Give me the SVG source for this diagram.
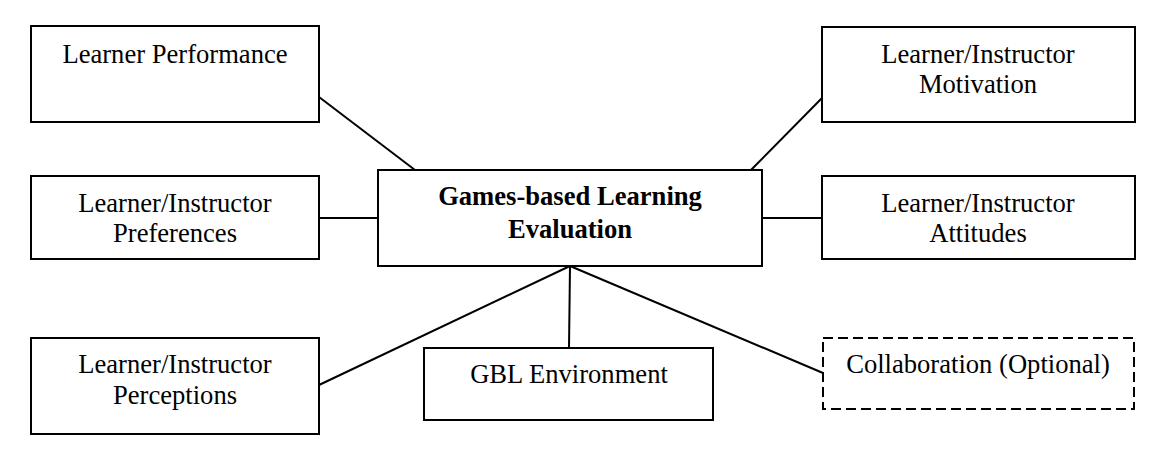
<svg xmlns="http://www.w3.org/2000/svg" width="1166" height="452" viewBox="0 0 1166 452">
<style>
.box{fill:#fff;stroke:#000;stroke-width:2}
.dash{stroke-dasharray:10,5}
.t{font-family:"Liberation Serif","Times New Roman",serif;font-size:26.6px;fill:#000;text-anchor:middle}
.b{font-weight:bold}
.c line{stroke:#000;stroke-width:2}
</style>
<rect width="1166" height="452" fill="#fff"/>
<g class="c" id="connectors">
<line x1="319" y1="97" x2="415" y2="170"/>
<line x1="822" y1="98" x2="751" y2="170"/>
<line x1="319" y1="218" x2="378" y2="218"/>
<line x1="762" y1="218" x2="822" y2="218"/>
<line x1="570" y1="266" x2="319" y2="385"/>
<line x1="570" y1="266" x2="569" y2="348"/>
<line x1="570" y1="266" x2="823" y2="373"/>
</g>
<g id="performance"><rect class="box" x="31" y="26" width="288" height="96"/><text class="t" x="175" y="63">Learner Performance</text></g>
<g id="motivation"><rect class="box" x="822" y="27" width="313" height="95"/><text class="t" x="978" y="63">Learner/Instructor</text><text class="t" x="978" y="93">Motivation</text></g>
<g id="preferences"><rect class="box" x="31" y="176" width="288" height="83"/><text class="t" x="175" y="212">Learner/Instructor</text><text class="t" x="175" y="242">Preferences</text></g>
<g id="center"><rect class="box" x="378" y="170" width="384" height="96"/><text class="t b" x="570" y="205">Games-based Learning</text><text class="t b" x="570" y="238">Evaluation</text></g>
<g id="attitudes"><rect class="box" x="822" y="176" width="313" height="83"/><text class="t" x="978" y="212">Learner/Instructor</text><text class="t" x="978" y="242">Attitudes</text></g>
<g id="perceptions"><rect class="box" x="31" y="338" width="288" height="96"/><text class="t" x="175" y="373">Learner/Instructor</text><text class="t" x="175" y="404">Perceptions</text></g>
<g id="environment"><rect class="box" x="424" y="348" width="289" height="72"/><text class="t" x="569" y="383">GBL Environment</text></g>
<g id="collaboration"><rect class="box dash" x="823" y="338" width="311" height="71"/><text class="t" x="978" y="373">Collaboration (Optional)</text></g>
</svg>
